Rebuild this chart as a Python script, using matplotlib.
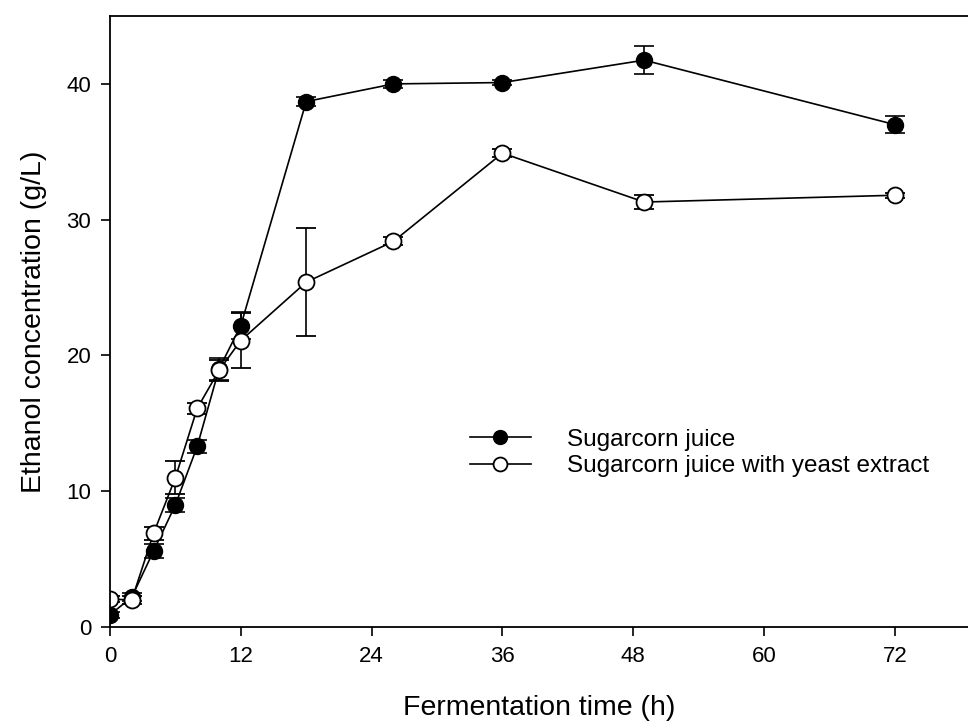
import matplotlib.pyplot as plt
from matplotlib.lines import Line2D

plt.rcParams['font.family'] = ['Liberation Sans', 'DejaVu Sans']

# fermentation time (h)
time = [0, 2, 4, 6, 8, 10, 12, 18, 26, 36, 49, 72]

# ethanol (g/L), sugarcorn juice
juice = [0.9, 2.2, 5.6, 9.0, 13.3, 19.0, 22.2, 38.7, 40.0, 40.1, 41.75, 37.0]
juice_err = [0.2, 0.3, 0.5, 0.5, 0.5, 0.8, 1.0, 0.3, 0.3, 0.2, 1.05, 0.6]

# ethanol (g/L), sugarcorn juice with yeast extract
yeast = [2.05, 2.0, 6.9, 11.0, 16.1, 18.9, 21.1, 25.4, 28.4, 34.9, 31.3, 31.8]
yeast_err = [0.2, 0.3, 0.5, 1.2, 0.4, 0.8, 2.0, 4.0, 0.3, 0.3, 0.5, 0.2]

labels = ['Sugarcorn juice', 'Sugarcorn juice with yeast extract']

fig = plt.figure(figsize=(9.68, 7.28), dpi=100)
ax = fig.add_axes([0.1136, 0.1387, 0.8864, 0.8393])

ax.errorbar(time, juice, yerr=juice_err, fmt='-o', color='black',
            mfc='black', mec='black', ms=11.5, lw=1.2, elinewidth=1.2,
            capsize=7, capthick=1.2, zorder=3)
ax.errorbar(time, yeast, yerr=yeast_err, fmt='-o', color='black',
            mfc='white', mec='black', mew=1.3, ms=11.5, lw=1.2, elinewidth=1.2,
            capsize=7, capthick=1.2, zorder=4)

ax.set_xlim(0, 78.7)
ax.set_ylim(0, 45)
ax.set_xticks([0, 12, 24, 36, 48, 60, 72])
ax.set_yticks([0, 10, 20, 30, 40])
ax.tick_params(direction='out', length=6.5, width=1.2, labelsize=16, pad=7)
for s in ax.spines.values():
    s.set_linewidth(1.3)
ax.spines['right'].set_visible(False)
ax.spines['bottom'].set_zorder(5)
ax.spines['left'].set_zorder(5)

ax.set_xlabel('Fermentation time (h)', fontsize=20.5, labelpad=20)
ax.set_ylabel('Ethanol concentration (g/L)', fontsize=20.5, labelpad=14)

# legend entries without the error bars
handles = [
    Line2D([], [], color='black', lw=1.2, marker='o', ms=10,
           mfc='black', mec='black'),
    Line2D([], [], color='black', lw=1.2, marker='o', ms=10,
           mfc='white', mec='black', mew=1.3),
]
ax.legend(handles, labels, loc='lower left', bbox_to_anchor=(0.408, 0.229),
          frameon=False, fontsize=17.5, handlelength=2.5, handletextpad=1.5,
          labelspacing=0.2, numpoints=1, borderaxespad=0, borderpad=0.4)

fig.savefig('out.png', dpi=100)
